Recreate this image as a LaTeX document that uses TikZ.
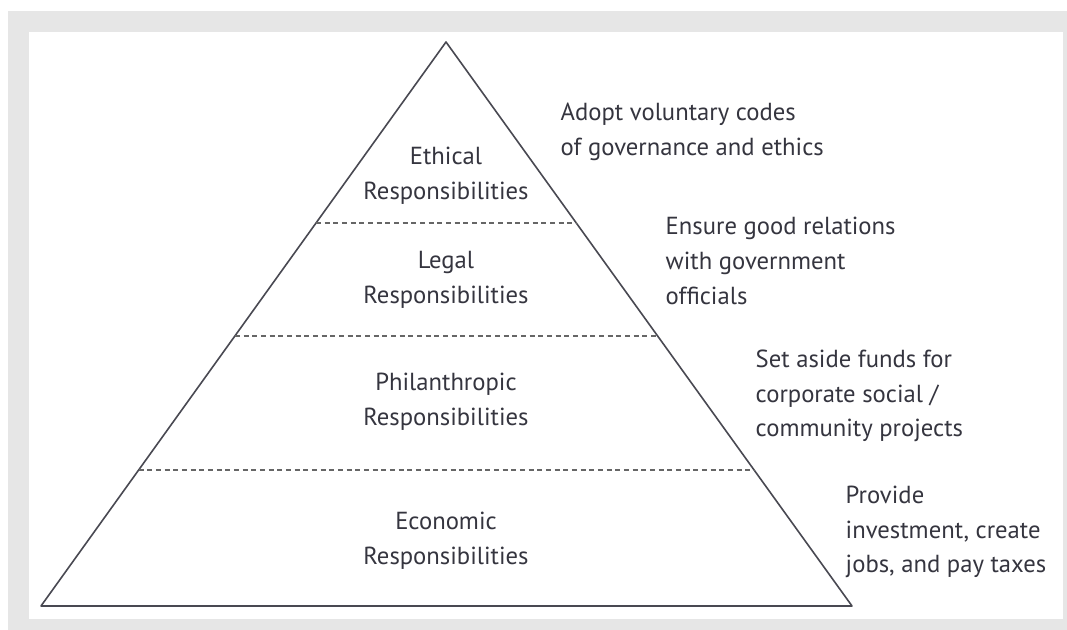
\documentclass[tikz,border=0pt]{standalone}
\usepackage{fontspec}
\setmainfont{PT Sans}
\usetikzlibrary{calc}
\definecolor{frame}{HTML}{E6E6E6}
\definecolor{ink}{HTML}{35353F}
\tikzset{
edge/.style = {line width = 1.2pt,color = ink!90},
level/.style = {line width = 1.1pt,color = black!60,dash pattern = on 3.8pt off 2.7pt},
tag/.style = {align = center,text = ink,font = \fontsize{18.5}{26}\selectfont},
note/.style = {align = left,anchor = west,text = ink,font = \fontsize{18.5}{26}\selectfont}
}

\begin{document}
\begin{tikzpicture}[x=0.75pt,y=-0.75pt]
%
\def\levellist{0.321,0.521,0.759}
\def\taglist{176/Ethical,280/Legal,402/Philanthropic,541/Economic}
%
\useasboundingbox (0,0) rectangle (1067,630);
\fill[white] (0,0) rectangle (1067,630);
\fill[frame] (8,11) rectangle (1067,630);
\fill[white] (29,32) rectangle (1063,619);
%
\coordinate (apex) at (446,42);
\coordinate (left) at (41,606);
\coordinate (right) at (852,606);
%
\draw[edge,line join=round] (apex)--(left)--(right)--cycle;
%
\foreach \t in \levellist {
\draw[level] ($(apex)!\t!(left)$)--($(apex)!\t!(right)$);
}
%
\foreach \y/\tag in \taglist {
\node[tag] (\tag) at (446,\y) {\tag\\Responsibilities};
}
%
\node[note] (ethics) at (556,132) {Adopt voluntary codes\\of governance and ethics};
\node[note] (relations) at (661,261) {Ensure good relations\\with government\\officials};
\node[note] (funds) at (751,396) {Set aside funds for\\corporate social /\\community projects};
\node[note] (taxes) at (841,532) {Provide\\investment, create\\jobs, and pay taxes};
%
\end{tikzpicture}
\end{document}
